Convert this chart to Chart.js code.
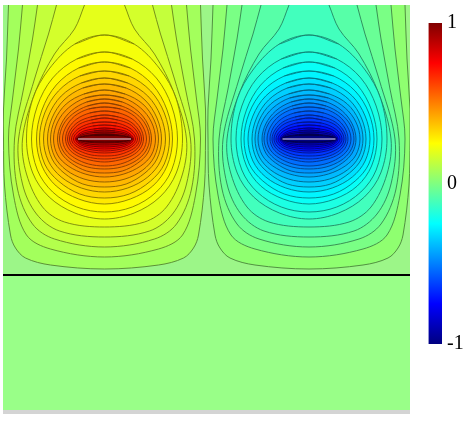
<!DOCTYPE html>
<html>
<head>
<meta charset="utf-8">
<title>Potential field</title>
<script src="https://cdn.jsdelivr.net/npm/chart.js@4"></script>
<style>
    body { margin: 0; background: #fff; }
    #field { position: absolute; left: 0; top: 0; }
    #colorbar { position: absolute; left: 420px; top: 0; }
</style>
</head>
<body>
<canvas id="field" width="420" height="426"></canvas>
<canvas id="colorbar" width="43" height="426"></canvas>
<script>
// values, x and y in plot units from the top left corner of the panel
const panelWidth = 407;
const panelBottom = 405;
const stripBottom = 409;
const interfaceY = 270;
const lobeCentersX = [101.5, 306];
const lobeCenterY = 134;
const electrodeHalf = 26.5;

// contour levels, outermost first
const leftLevels = [0.07, 0.10, 0.135, 0.165, 0.2, 0.23, 0.26, 0.295, 0.33, 0.36, 0.39, 0.425, 0.455, 0.49, 0.52, 0.55, 0.585, 0.615, 0.65, 0.68, 0.71, 0.76, 0.82, 0.88, 0.94, 1];
const rightLevels = [0.03, -0.01, -0.045, -0.08, -0.12, -0.16, -0.195, -0.235, -0.27, -0.31, -0.345, -0.385, -0.42, -0.46, -0.495, -0.535, -0.57, -0.61, -0.645, -0.68, -0.72, -0.76, -0.82, -0.88, -0.94, -1];

// the five outer contours run off the top edge (half outline, offset from the lobe centre)
const openDx = [
    [96, 98, 101, 101, 100, 94, 89, 79, 54, 0],
    [82, 86, 92, 96, 91, 78, 54, 0],
    [67, 72, 81, 90, 87, 72, 50, 0],
    [48, 56, 70, 86, 82, 68, 45, 0],
    [20, 30, 50, 70, 82, 78, 62, 40, 0]
];
const openDy = [
    [-134, -80, -30, 0, 46, 96, 109, 119, 126, 130],
    [-134, -90, -40, 0, 56, 96, 110, 118],
    [-134, -100, -50, 0, 50, 85, 100, 108],
    [-134, -105, -60, 0, 45, 75, 92, 98],
    [-134, -110, -85, -45, 0, 35, 68, 83, 88]
];

// the closed contours, one column per place on the outline
const closedWidth = [78, 73, 68, 65, 61, 57, 54, 51, 47, 45, 42, 39, 37, 35, 33, 31, 29, 28, 27.5, 27, 27];
const closedTop = [104, 87, 77, 68, 61, 55, 49, 44, 40, 36, 32, 28, 24, 21, 17, 14, 11, 9, 7, 5, 4];
const closedTopA = [95, 80, 71, 63, 56, 51, 45, 41, 37, 33, 30, 26, 22, 19, 16, 13, 10, 8, 6.5, 4.6, 3.7];
const closedTopB = [70, 61, 54, 48, 43, 39, 35, 31, 28, 25, 23, 20, 17, 15, 12, 10, 8, 6.4, 5, 3.5, 2.8];
const closedTopC = [40, 33, 29, 26, 23, 21, 19, 17, 15, 14, 12, 11, 9, 8, 6.5, 5.4, 4.2, 3.4, 2.7, 1.9, 1.5];
const closedBottomC = [34, 31, 27, 25, 22, 20, 18, 16, 14, 12, 11, 9.5, 8, 7, 5.6, 4.8, 4, 3.2, 2.4, 1.6, 1.2];
const closedBottomB = [58, 53, 47, 42, 38, 34, 31, 27, 24, 21.5, 19, 16.5, 14.4, 12, 10, 8.6, 7.2, 5.8, 4.3, 2.9, 2.2];
const closedBottomA = [74, 68, 60, 55, 49, 45, 40, 35, 32, 28, 25, 21, 18.6, 16, 13, 11, 9.3, 7.4, 5.6, 3.7, 2.8];
const closedBottom = [80, 73, 65, 59, 53, 48, 43, 38, 34, 30, 27, 23, 20, 17, 14, 12, 10, 8, 6, 4, 3];

const colorbarRange = [-1, 1];
const colorbarTicks = [-1, 0, 1];

function jet(v, shade = 1) {
    const t = (v + 1) / 2;
    const part = d => Math.round(255 * shade * Math.max(0, Math.min(1, 1.5 - Math.abs(4 * t - d))));
    return `rgb(${part(3)},${part(2)},${part(1)})`;
}

function closedOutline(i, cx) {
    const w = closedWidth[i];
    const cy = lobeCenterY;
    const right = [
        {x: cx, y: cy - closedTop[i]},
        {x: cx + 0.38 * w, y: cy - closedTopA[i]},
        {x: cx + 0.71 * w, y: cy - closedTopB[i]},
        {x: cx + 0.92 * w, y: cy - closedTopC[i]},
        {x: cx + w, y: cy},
        {x: cx + 0.92 * w, y: cy + closedBottomC[i]},
        {x: cx + 0.71 * w, y: cy + closedBottomB[i]},
        {x: cx + 0.38 * w, y: cy + closedBottomA[i]},
        {x: cx, y: cy + closedBottom[i]}
    ];
    const left = right.slice(1, -1).reverse().map(p => ({x: 2 * cx - p.x, y: p.y}));
    // runs once past the start so the top does not get a corner
    return [left[left.length - 1]].concat(right, left, right[0], right[1]);
}

function openOutline(i, cx) {
    const right = openDx[i].map((dx, j) => ({x: cx + dx, y: lobeCenterY + openDy[i][j]}));
    const left = right.slice(0, -1).reverse().map(p => ({x: 2 * cx - p.x, y: p.y}));
    return right.concat(left);
}

const datasets = [];

function addRect(x0, x1, y0, y1, color) {
    datasets.push({
        data: [{x: x0, y: y0}, {x: x1, y: y0}, {x: x1, y: y1}, {x: x0, y: y1}, {x: x0, y: y0}],
        fill: 'shape', backgroundColor: color, borderWidth: 0, tension: 0
    });
}

addRect(0, panelWidth, 0, interfaceY, '#9cf688');
addRect(0, panelWidth, interfaceY, panelBottom, '#99ff88');
addRect(0, panelWidth, panelBottom, stripBottom, '#d4d4d4');

[leftLevels, rightLevels].forEach((levels, lobe) => {
    const cx = lobeCentersX[lobe];
    levels.forEach((level, i) => {
        const outline = i < openDx.length ? openOutline(i, cx) : closedOutline(i - openDx.length, cx);
        datasets.push({
            data: outline,
            fill: 'shape',
            backgroundColor: jet(level),
            borderColor: jet(level, 0.52),
            borderWidth: 0.9,
            tension: 0.34
        });
    });
    datasets.push({
        data: [{x: cx - electrodeHalf, y: lobeCenterY}, {x: cx + electrodeHalf, y: lobeCenterY}],
        borderColor: '#ece6f2', borderWidth: 1.2, fill: false
    });
});

datasets.push({
    data: [{x: 0, y: interfaceY}, {x: panelWidth, y: interfaceY}],
    borderColor: '#000', borderWidth: 2, fill: false
});

// first dataset has to end up at the back
datasets.forEach((d, i) => {
    d.order = -i;
    d.showLine = true;
    d.pointRadius = 0;
});

new Chart(document.getElementById('field'), {
    type: 'scatter',
    data: {datasets},
    options: {
        responsive: false,
        animation: false,
        events: [],
        layout: {padding: {left: 3, top: 5, right: 10, bottom: 12}},
        plugins: {legend: {display: false}, tooltip: {enabled: false}},
        scales: {
            x: {display: false, min: 0, max: panelWidth},
            y: {display: false, min: 0, max: stripBottom, reverse: true}
        }
    }
});

new Chart(document.getElementById('colorbar'), {
    type: 'bar',
    data: {
        labels: [''],
        datasets: [{
            data: [colorbarRange],
            barPercentage: 1,
            categoryPercentage: 1,
            backgroundColor: ctx => {
                const area = ctx.chart.chartArea;
                if (!area) return '#000';
                const g = ctx.chart.ctx.createLinearGradient(0, area.bottom, 0, area.top);
                for (let s = 0; s <= 16; s++) g.addColorStop(s / 16, jet(s / 8 - 1));
                return g;
            }
        }]
    },
    options: {
        responsive: false,
        animation: false,
        events: [],
        layout: {padding: {left: 8.5, top: 23, right: 0, bottom: 82}},
        plugins: {legend: {display: false}, tooltip: {enabled: false}},
        scales: {
            x: {display: false},
            y: {
                position: 'right',
                min: -1,
                max: 1,
                border: {display: false},
                grid: {display: false, drawTicks: false, tickLength: 0},
                afterBuildTicks: axis => { axis.ticks = colorbarTicks.map(value => ({value})); },
                afterFit: axis => { axis.width = 21; },
                ticks: {
                    color: '#000',
                    padding: 5,
                    font: {family: '"Liberation Serif"', size: 20},
                    callback: v => String(v)
                }
            }
        }
    }
});
</script>
</body>
</html>
